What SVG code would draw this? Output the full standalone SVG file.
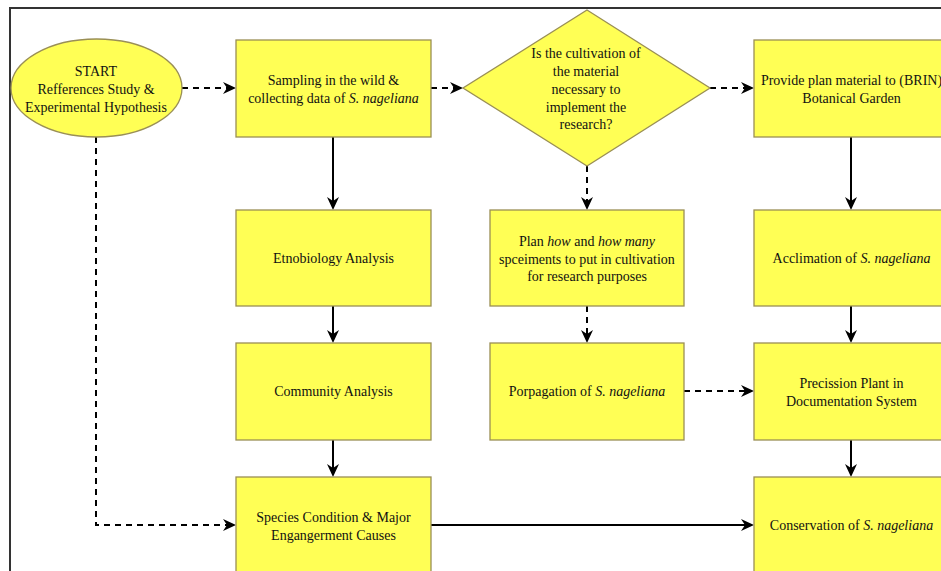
<svg xmlns="http://www.w3.org/2000/svg" width="941" height="571" viewBox="0 0 941 571">
<style>
.box{fill:#ffff55;stroke:#9a8f55;stroke-width:1.3}
.t{font-family:"Liberation Serif","Times New Roman",serif;font-size:14px;fill:#111;text-anchor:middle}
.i{font-style:italic}
.c{fill:none;stroke:#000;stroke-width:2}
.d{stroke-dasharray:6 5}
</style>
<defs>
<marker id="ah" markerUnits="userSpaceOnUse" markerWidth="14" markerHeight="13" refX="9" refY="6" orient="auto" viewBox="0 0 14 12">
<path d="M0,0 L13,6 L0,12 L4,6 Z" fill="#000"/>
</marker>
</defs>
<rect width="941" height="571" fill="#fff"/>
<path d="M10,571 V8 H941" fill="none" stroke="#333" stroke-width="2"/>

<g id="connectors">
<path class="c d" d="M182,88 H232" marker-end="url(#ah)"/>
<path class="c d" d="M431,88 H459" marker-end="url(#ah)"/>
<path class="c d" d="M710,88 H750" marker-end="url(#ah)"/>
<path class="c" d="M333,137 V206" marker-end="url(#ah)"/>
<path class="c" d="M333,306 V339" marker-end="url(#ah)"/>
<path class="c" d="M333,440 V473" marker-end="url(#ah)"/>
<path class="c d" d="M587,166 V206" marker-end="url(#ah)"/>
<path class="c d" d="M587,306 V339" marker-end="url(#ah)"/>
<path class="c d" d="M684,391 H750" marker-end="url(#ah)"/>
<path class="c" d="M851,137 V206" marker-end="url(#ah)"/>
<path class="c" d="M851,306 V339" marker-end="url(#ah)"/>
<path class="c" d="M851,440 V473" marker-end="url(#ah)"/>
<path class="c" d="M431,525 H750" marker-end="url(#ah)"/>
<path class="c d" d="M96,137 V525 H232" marker-end="url(#ah)"/>
</g>

<g id="start">
<ellipse class="box" cx="96.5" cy="88" rx="85.5" ry="49"/>
<text class="t" x="96" y="76">START</text>
<text class="t" x="96" y="94">Refferences Study &amp;</text>
<text class="t" x="96" y="112">Experimental Hypothesis</text>
</g>

<g id="sampling">
<rect class="box" x="236" y="40" width="195" height="97"/>
<text class="t" x="333.5" y="84.5">Sampling in the wild &amp;</text>
<text class="t" x="333.5" y="102.5">collecting data of <tspan class="i">S. nageliana</tspan></text>
</g>

<g id="decision">
<path class="box" d="M587,10 L710,88 L587,166 L463,88 Z"/>
<text class="t" x="586" y="57.5">Is the cultivation of</text>
<text class="t" x="586" y="75.5">the material</text>
<text class="t" x="586" y="93.5">necessary to</text>
<text class="t" x="586" y="111.5">implement the</text>
<text class="t" x="586" y="129">research?</text>
</g>

<g id="provide">
<rect class="box" x="754" y="40" width="195" height="97"/>
<text class="t" x="851.5" y="84.5">Provide plan material to (BRIN)</text>
<text class="t" x="851.5" y="102.5">Botanical Garden</text>
</g>

<g id="etnobiology">
<rect class="box" x="236" y="210" width="195" height="96"/>
<text class="t" x="333.5" y="262.5">Etnobiology Analysis</text>
</g>

<g id="plan">
<rect class="box" x="490" y="210" width="194" height="96"/>
<text class="t" x="587" y="245.5">Plan <tspan class="i">how</tspan> and <tspan class="i">how many</tspan></text>
<text class="t" x="587" y="263.5">spceiments to put in cultivation</text>
<text class="t" x="587" y="281">for research purposes</text>
</g>

<g id="acclimation">
<rect class="box" x="754" y="210" width="195" height="96"/>
<text class="t" x="851.5" y="262.5">Acclimation of <tspan class="i">S. nageliana</tspan></text>
</g>

<g id="community">
<rect class="box" x="236" y="343" width="195" height="97"/>
<text class="t" x="333.5" y="395.5">Community Analysis</text>
</g>

<g id="propagation">
<rect class="box" x="490" y="343" width="194" height="97"/>
<text class="t" x="587" y="395.5">Porpagation of <tspan class="i">S. nageliana</tspan></text>
</g>

<g id="precission">
<rect class="box" x="754" y="343" width="195" height="97"/>
<text class="t" x="851.5" y="387.5">Precission Plant in</text>
<text class="t" x="851.5" y="405.5">Documentation System</text>
</g>

<g id="species">
<rect class="box" x="236" y="477" width="195" height="97"/>
<text class="t" x="333.5" y="521.5">Species Condition &amp; Major</text>
<text class="t" x="333.5" y="539.5">Engangerment Causes</text>
</g>

<g id="conservation">
<rect class="box" x="754" y="477" width="195" height="97"/>
<text class="t" x="851.5" y="529.5">Conservation of <tspan class="i">S. nageliana</tspan></text>
</g>
</svg>
